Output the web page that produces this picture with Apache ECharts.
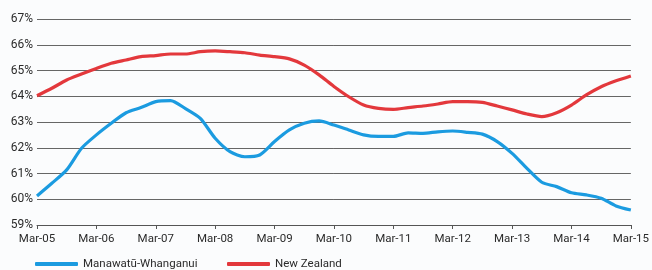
<!DOCTYPE html>
<html>
<head>
<meta charset="utf-8">
<script src="https://cdn.jsdelivr.net/npm/echarts@6/dist/echarts.min.js"></script>
<style>
html,body{margin:0;padding:0;background:#fbfcfd;}
#c{width:652px;height:270px;}
</style>
</head>
<body>
<div id="c"></div>
<script>
const quarters = ['Mar','Jun','Sep','Dec'];
const years = ['05','06','07','08','09','10','11','12','13','14','15'];
const categories = [];
years.forEach(function(y, i){
  quarters.forEach(function(q, j){
    if (i < years.length - 1 || j === 0) categories.push(q + '-' + y);
  });
});

const manawatu = [
  60.13, 60.62, 61.14, 61.98, 62.50, 62.95, 63.36, 63.56,
  63.79, 63.83, 63.52, 63.14, 62.37, 61.85, 61.65, 61.72,
  62.24, 62.69, 62.95, 63.04, 62.88, 62.69, 62.50, 62.44,
  62.44, 62.58, 62.56, 62.62, 62.65, 62.60, 62.53, 62.24,
  61.78, 61.20, 60.66, 60.49, 60.25, 60.17, 60.04, 59.74,
  59.58
];
const newZealand = [
  64.02, 64.31, 64.63, 64.86, 65.08, 65.28, 65.41, 65.54,
  65.58, 65.64, 65.64, 65.73, 65.76, 65.73, 65.69, 65.60,
  65.54, 65.45, 65.21, 64.83, 64.38, 63.98, 63.66, 63.53,
  63.49, 63.56, 63.62, 63.70, 63.79, 63.79, 63.76, 63.62,
  63.47, 63.31, 63.21, 63.36, 63.66, 64.05, 64.37, 64.60,
  64.79
];
const seriesNames = ['Manawatū-Whanganui', 'New Zealand'];

const FONT = 'Roboto, sans-serif';
const legendBase = {
  top: 253, itemWidth: 43, itemHeight: 4,
  icon: 'roundRect',
  textStyle: {fontFamily: FONT, fontSize: 11.5, color: '#2b2b2b'}
};
const chart = echarts.init(document.getElementById('c'), null, {renderer: 'canvas'});
chart.setOption({
  backgroundColor: '#fbfcfd',
  animation: false,
  grid: {left: 37, right: 21, top: 19, bottom: 45, containLabel: false},
  legend: [
    Object.assign({left: 30, data: [seriesNames[0]]}, legendBase),
    Object.assign({left: 222, data: [seriesNames[1]]}, legendBase)
  ],
  xAxis: {
    type: 'category',
    data: categories,
    boundaryGap: false,
    axisLine: {lineStyle: {color: '#555', width: 1}},
    axisTick: {interval: 3, length: 4, lineStyle: {color: '#555'}},
    axisLabel: {interval: 3, margin: 8, fontFamily: FONT, fontSize: 11.5, color: '#2b2b2b'}
  },
  yAxis: {
    type: 'value',
    min: 59, max: 67, interval: 1,
    axisLine: {show: false},
    axisTick: {show: false},
    axisLabel: {formatter: '{value}%', margin: 4, fontFamily: FONT, fontSize: 12, color: '#2b2b2b'},
    splitLine: {lineStyle: {color: '#666', width: 1}}
  },
  series: [
    {name: seriesNames[0], type: 'line', data: manawatu, smooth: 0.25, showSymbol: false,
     lineStyle: {width: 3.2, color: '#1b9be0'}, itemStyle: {color: '#1b9be0'}},
    {name: seriesNames[1], type: 'line', data: newZealand, smooth: 0.25, showSymbol: false,
     lineStyle: {width: 3.2, color: '#e3383c'}, itemStyle: {color: '#e3383c'}}
  ]
});
</script>
</body>
</html>
